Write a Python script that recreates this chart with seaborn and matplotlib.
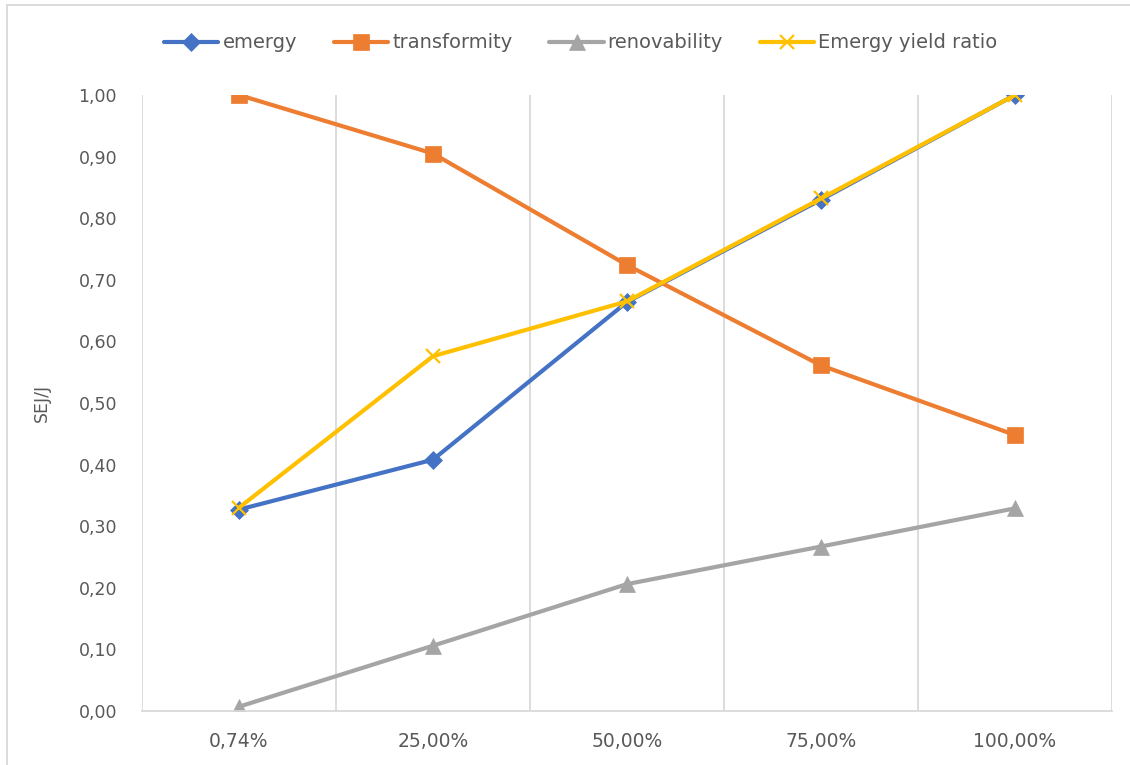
import matplotlib
matplotlib.use("Agg")
import matplotlib.pyplot as plt
import matplotlib.lines as mlines
from matplotlib.ticker import FuncFormatter, FixedLocator
import numpy as np
import pandas as pd
import seaborn as sns

categories = ["0,74%", "25,00%", "50,00%", "75,00%", "100,00%"]
emergy = [0.327, 0.408, 0.664, 0.830, 1.000]
transformity = [1.000, 0.905, 0.724, 0.561, 0.448]
renovability = [0.007, 0.106, 0.206, 0.267, 0.329]
eyr = [0.330, 0.576, 0.665, 0.832, 1.000]

series_names = ["emergy", "transformity", "renovability", "Emergy yield ratio"]
series_values = [emergy, transformity, renovability, eyr]
colors = ["#4472C4", "#ED7D31", "#A5A5A5", "#FFC000"]
markers = ["D", "s", "^", "x"]
marker_sizes = [9.5, 11, 11, 10]

rows = []
for name, vals in zip(series_names, series_values):
    for i, v in enumerate(vals):
        rows.append({"pos": i, "value": v, "series": name})
df = pd.DataFrame(rows)

sns.set_theme(style="white")
plt.rcParams["font.family"] = ["DejaVu Sans"]

fig = plt.figure(figsize=(11.3, 7.65), dpi=100)
ax = fig.add_axes([142 / 1130, 54 / 765, (1112 - 142) / 1130, (711 - 95) / 765])

for name, col, mk, ms in zip(series_names, colors, markers, marker_sizes):
    sub = df[df["series"] == name]
    sns.lineplot(data=sub, x="pos", y="value", ax=ax, color=col, linewidth=3,
                 marker=mk, markersize=ms, markeredgecolor=col,
                 markeredgewidth=1.6 if mk == "x" else 0.5, legend=False)

ax.set_xlim(-0.5, len(categories) - 0.5)
ax.set_ylim(0, 1.0)
ax.set_xticks(range(len(categories)))
ax.set_xticklabels(categories)
ax.xaxis.set_minor_locator(FixedLocator(np.arange(-0.5, len(categories), 1.0)))
ax.grid(False)
ax.grid(which="minor", axis="x", color="#D9D9D9", linewidth=1.3)
ax.set_yticks(np.arange(0, 1.01, 0.1))
ax.yaxis.set_major_formatter(FuncFormatter(lambda v, p: f"{v:.2f}".replace(".", ",")))
ax.tick_params(axis="both", which="both", length=0, colors="#595959")
ax.tick_params(axis="y", labelsize=12.5, pad=18)
ax.tick_params(axis="x", labelsize=13.5, pad=15)

for s in ["top", "right", "left"]:
    ax.spines[s].set_visible(False)
ax.spines["bottom"].set_color("#D9D9D9")
ax.spines["bottom"].set_linewidth(1.3)

ax.set_xlabel("")
ax.set_ylabel("SEJ/J", color="#595959", fontsize=12.5, labelpad=20)

handles = [mlines.Line2D([], [], color=c, linewidth=3, marker=m, markersize=s,
                         markeredgecolor=c, markeredgewidth=1.6 if m == "x" else 0.5)
           for c, m, s in zip(colors, markers, marker_sizes)]
leg = fig.legend(handles, series_names, loc="center", bbox_to_anchor=(0.514, 0.944),
                 ncol=4, frameon=False, fontsize=14, handlelength=2.8,
                 handletextpad=0.2, columnspacing=1.9)
for t in leg.get_texts():
    t.set_color("#595959")

# outer chart frame
fig.add_artist(mlines.Line2D([7 / 1130, 7 / 1130], [0, 1 - 5 / 765],
                             transform=fig.transFigure, color="#D9D9D9", linewidth=1.3))
fig.add_artist(mlines.Line2D([7 / 1130, 1], [1 - 5 / 765, 1 - 5 / 765],
                             transform=fig.transFigure, color="#D9D9D9", linewidth=1.3))

fig.savefig("out.png", dpi=100)
